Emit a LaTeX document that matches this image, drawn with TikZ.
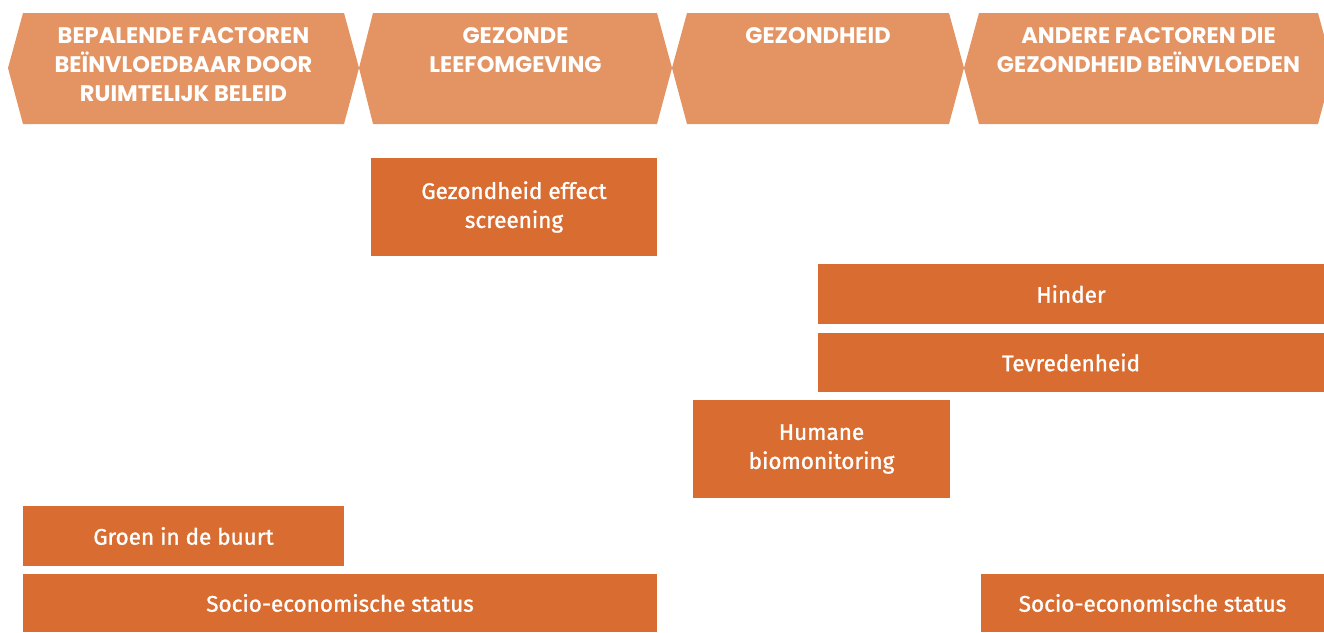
\documentclass[tikz,border=0pt]{standalone}
\usepackage{fontspec}
\newfontfamily\headfont{Poppins}
\newfontfamily\boxfont{Fira Sans}[FakeBold=1.2]
\usepackage{tikz}

\definecolor{headorange}{RGB}{228,147,98}
\definecolor{boxorange}{RGB}{217,108,48}

\tikzset{
  headtext/.style={text=white, anchor=base, align=center, inner sep=0pt,
    font=\headfont\bfseries\fontsize{22.5}{29}\selectfont},
  factorbox/.style={fill=boxorange, text=white, inner sep=0pt, align=center,
    font=\boxfont\fontsize{22.5}{29}\selectfont},
}

\begin{document}
\begin{tikzpicture}[x=1pt, y=-1pt]
  \clip (0,0) rectangle (1324,632);
  % column headers
  \fill[headorange] (8,68) -- (23,13) -- (344,13) -- (359,68) -- (344,124) -- (23,124) -- cycle;
  \fill[headorange] (359,68) -- (373,13) -- (657,13) -- (672,68) -- (657,124) -- (373,124) -- cycle;
  \fill[headorange] (672,68) -- (687,13) -- (949,13) -- (964,68) -- (949,124) -- (687,124) -- cycle;
  \fill[headorange] (964,68) -- (979,13) -- (1318,13) -- (1333,68) -- (1318,124) -- (979,124) -- cycle;
  % header texts, anchored on the baseline of their last line
  \node[headtext] (beleid) at (183.5,101) {BEPALENDE FACTOREN\\BEÏNVLOEDBAAR DOOR\\RUIMTELIJK BELEID};
  \node[headtext] (leefomg) at (515.5,72) {GEZONDE\\LEEFOMGEVING};
  \node[headtext] (gezondh) at (818,43) {GEZONDHEID};
  \node[headtext] (andere) at (1148.5,72) {ANDERE FACTOREN DIE\\GEZONDHEID BEÏNVLOEDEN};
  % factor boxes
  \node[factorbox, minimum width=286pt, minimum height=98pt] (ges) at (514,207) {Gezondheid effect\\screening};
  \node[factorbox, minimum width=506pt, minimum height=60pt] (hinder) at (1071,294) {Hinder};
  \node[factorbox, minimum width=506pt, minimum height=59pt] (tevred) at (1071,362.5) {Tevredenheid};
  \node[factorbox, minimum width=257pt, minimum height=98pt] (hbm) at (821.5,449) {Humane\\biomonitoring};
  \node[factorbox, minimum width=321pt, minimum height=60pt] (groen) at (183.5,536) {Groen in de buurt};
  \node[factorbox, minimum width=634pt, minimum height=58pt] (sesl) at (340,603) {Socio-economische status};
  \node[factorbox, minimum width=343pt, minimum height=58pt] (sesr) at (1152.5,603) {Socio-economische status};
\end{tikzpicture}
\end{document}
